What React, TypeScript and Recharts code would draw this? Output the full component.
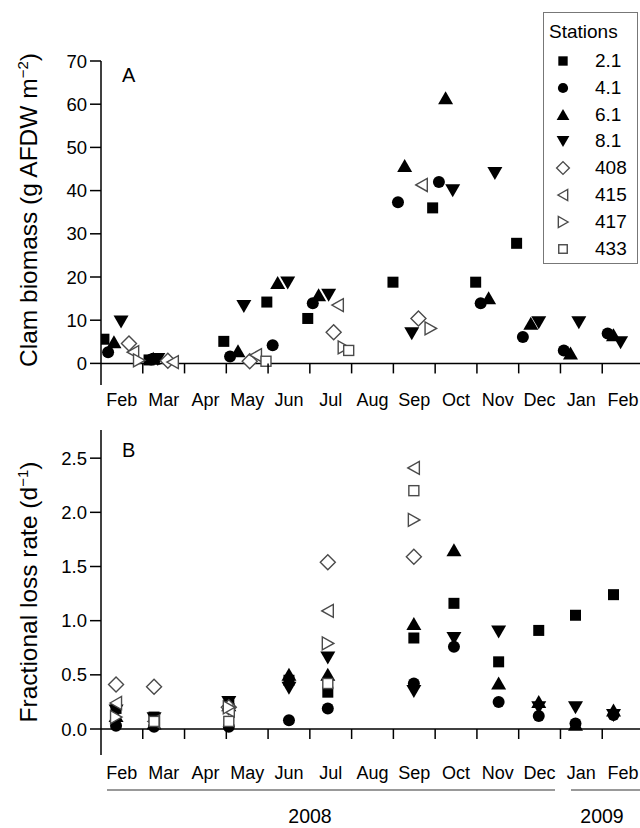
import React from "react";
import { ScatterChart, Scatter, XAxis, YAxis, ReferenceLine } from "recharts";

const FONT = "'Liberation Sans', Arial, Helvetica, sans-serif";

const stations = ["2.1", "4.1", "6.1", "8.1", "408", "415", "417", "433"];
const markerKinds = ["square", "circle", "up", "down", "diamond", "left", "right", "openSquare"];

// month index: 0 = start of Feb 2008, 13 = end of Feb 2009
const monthLabels = ["Feb", "Mar", "Apr", "May", "Jun", "Jul", "Aug", "Sep", "Oct", "Nov", "Dec", "Jan", "Feb"];
const monthTicks = [0.5, 1, 1.5, 2, 2.5, 3, 3.5, 4, 4.5, 5, 5.5, 6, 6.5, 7, 7.5, 8, 8.5, 9, 9.5, 10, 10.5, 11, 11.5, 12, 12.5];

// Panel A: clam biomass (g AFDW m-2)
const biomassTicks = [0, 10, 20, 30, 40, 50, 60, 70];
const aMonth21 = [0.07, 1.15, 2.94, 3.97, 4.95, 6.99, 7.94, 8.97, 9.95];
const aBio21 = [5.6, 0.8, 5.1, 14.2, 10.4, 18.8, 36.0, 18.8, 27.8];
const aMonth41 = [0.17, 1.2, 3.09, 4.11, 5.07, 7.11, 8.09, 9.09, 10.1, 11.08, 12.13];
const aBio41 = [2.6, 0.9, 1.6, 4.2, 13.9, 37.3, 42.0, 13.9, 6.1, 3.0, 6.9];
const aMonth61 = [0.31, 1.25, 3.28, 4.23, 5.21, 7.27, 8.25, 9.28, 10.29, 11.24, 12.27];
const aBio61 = [4.9, 1.1, 2.8, 18.6, 15.8, 45.7, 61.4, 15.1, 9.2, 2.3, 6.5];
const aMonth81 = [0.48, 1.36, 3.42, 4.47, 5.45, 7.44, 8.42, 9.43, 10.48, 11.44, 12.44];
const aBio81 = [9.7, 1.0, 13.3, 18.7, 15.9, 7.0, 40.1, 44.1, 9.5, 9.5, 4.9];
const aMonth408 = [0.67, 1.6, 3.56, 5.57, 7.6];
const aBio408 = [4.6, 0.6, 0.5, 7.2, 10.4];
const aMonth415 = [0.77, 1.72, 3.71, 5.67, 7.68];
const aBio415 = [2.6, 0.3, 1.9, 13.5, 41.3];
const aMonth417 = [0.91, 5.81, 7.89];
const aBio417 = [0.7, 3.7, 8.1];
const aMonth433 = [3.95, 5.93];
const aBio433 = [0.5, 3.0];

// Panel B: fractional loss rate (d-1), one column per sampling
const lossTicks = [0, 0.5, 1, 1.5, 2, 2.5];
const bMonths = [0.36, 1.27, 3.06, 4.5, 5.43, 7.49, 8.45, 9.52, 10.48, 11.36, 12.27];
const bLoss21 = [0.19, 0.11, 0.22, 0.45, 0.34, 0.84, 1.16, 0.62, 0.91, 1.05, 1.24];
const bLoss41 = [0.03, 0.02, 0.02, 0.08, 0.19, 0.42, 0.76, 0.25, 0.12, 0.05, 0.13];
const bLoss61 = [0.12, 0.05, 0.22, 0.5, 0.5, 0.97, 1.65, 0.42, 0.25, 0.04, 0.17];
const bLoss81 = [0.17, 0.1, 0.25, 0.38, 0.66, 0.35, 0.84, 0.9, 0.2, 0.2, 0.13];
const bLoss408 = [0.41, 0.39, 0.2, null, 1.54, 1.59, null, null, null, null, null];
const bLoss415 = [0.24, 0.07, 0.17, null, 1.09, 2.41, null, null, null, null, null];
const bLoss417 = [0.11, null, 0.2, null, 0.79, 1.93, null, null, null, null, null];
const bLoss433 = [null, 0.07, 0.07, null, 0.42, 2.2, null, null, null, null, null];

const years = ["2008", "2009"];

const zip = (xs: number[], ys: (number | null)[]) =>
  xs.map((m, i) => ({ m, v: ys[i] })).filter((d) => d.v !== null);

const seriesA = [
  zip(aMonth21, aBio21), zip(aMonth41, aBio41), zip(aMonth61, aBio61), zip(aMonth81, aBio81),
  zip(aMonth408, aBio408), zip(aMonth415, aBio415), zip(aMonth417, aBio417), zip(aMonth433, aBio433),
];
const seriesB = [bLoss21, bLoss41, bLoss61, bLoss81, bLoss408, bLoss415, bLoss417, bLoss433].map((ys) =>
  zip(bMonths, ys)
);

const OPEN = "#4a4a4a";

function Marker({ kind, cx, cy, k = 1 }: { kind: string; cx: number; cy: number; k?: number }) {
  if (cx == null || cy == null) return null;
  const pts = (arr: number[][]) => arr.map(([dx, dy]) => `${cx + dx * k},${cy + dy * k}`).join(" ");
  switch (kind) {
    case "square":
      return <rect x={cx - 5.5 * k} y={cy - 5.5 * k} width={11 * k} height={11 * k} fill="#000" />;
    case "circle":
      return <circle cx={cx} cy={cy} r={6 * k} fill="#000" />;
    case "up":
      return <polygon points={pts([[0, -7], [7.5, 6], [-7.5, 6]])} fill="#000" />;
    case "down":
      return <polygon points={pts([[0, 7], [7.5, -6], [-7.5, -6]])} fill="#000" />;
    case "diamond":
      return <polygon points={pts([[0, -7.5], [7.5, 0], [0, 7.5], [-7.5, 0]])} fill="#fff" stroke={OPEN} strokeWidth={1.4} />;
    case "left":
      return <polygon points={pts([[-6, 0], [5.5, -6.5], [5.5, 6.5]])} fill="#fff" stroke={OPEN} strokeWidth={1.4} />;
    case "right":
      return <polygon points={pts([[6, 0], [-5.5, -6.5], [-5.5, 6.5]])} fill="#fff" stroke={OPEN} strokeWidth={1.4} />;
    default:
      return <rect x={cx - 5 * k} y={cy - 5 * k} width={10 * k} height={10 * k} fill="#fff" stroke={OPEN} strokeWidth={1.4} />;
  }
}

function MonthTick(props: any) {
  const { x, y, payload, zeroOffset, labelDy } = props;
  const v = payload.value;
  if (Number.isInteger(v)) {
    return <line x1={x} x2={x} y1={y - zeroOffset} y2={y - zeroOffset + 10} stroke="#000" strokeWidth={1.5} />;
  }
  return (
    <text x={x} y={y + labelDy} textAnchor="middle" fontSize={18} fontFamily={FONT} fill="#000">
      {monthLabels[Math.floor(v)]}
    </text>
  );
}

const X_DOMAIN: [number, number] = [0, 13];
const A_DOMAIN: [number, number] = [-5, 70];
const B_DOMAIN: [number, number] = [-0.24, 2.76];
const A_PLOT_H = 324;
const B_PLOT_H = 325;

function Panel({
  series, domain, ticks, plotH, height, top, labelDy, title, sup, titleY, fmt,
}: any) {
  const zeroOffset = (plotH * (0 - domain[0])) / (domain[1] - domain[0]);
  return (
    <ScatterChart width={650} height={height} margin={{ top, right: 6, left: 0, bottom: 0 }}>
      <XAxis
        type="number"
        dataKey="m"
        domain={X_DOMAIN}
        ticks={monthTicks}
        interval={0}
        axisLine={false}
        tickLine={false}
        tickSize={0}
        tickMargin={0}
        height={35}
        allowDataOverflow
        tick={(p: any) => <MonthTick {...p} zeroOffset={zeroOffset} labelDy={labelDy} />}
      />
      <YAxis
        type="number"
        dataKey="v"
        domain={domain}
        ticks={ticks}
        width={101}
        allowDataOverflow
        axisLine={{ stroke: "#000", strokeWidth: 1.5 }}
        tickLine={{ stroke: "#000", strokeWidth: 1.5 }}
        tickSize={11}
        tickMargin={3}
        tickFormatter={fmt}
        tick={{ fill: "#000", fontSize: 18.5, fontFamily: FONT }}
        label={{
          content: () => (
            <text transform={`translate(37, ${titleY}) rotate(-90)`} textAnchor="middle" fontSize={24.5} fontFamily={FONT} fill="#000">
              {title}
              <tspan dy={-9} fontSize={15}>{sup}</tspan>
              <tspan dy={9}>)</tspan>
            </text>
          ),
        }}
      />
      <ReferenceLine y={0} stroke="#000" strokeWidth={1.5} ifOverflow="extendDomain" />
      {series.map((data: any[], i: number) => (
        <Scatter
          key={stations[i]}
          name={stations[i]}
          data={data}
          isAnimationActive={false}
          shape={(p: any) => <Marker kind={markerKinds[i]} cx={p.cx} cy={p.cy} />}
        />
      ))}
    </ScatterChart>
  );
}

export default function App() {
  return (
    <div
      style={{
        position: "absolute", left: 0, top: 0, width: 640, height: 828,
        overflow: "hidden", background: "#fff", fontFamily: FONT,
      }}
    >
      <div style={{ position: "absolute", left: 0, top: 0 }}>
        <Panel
          series={seriesA} domain={A_DOMAIN} ticks={biomassTicks} plotH={A_PLOT_H}
          height={420} top={61} labelDy={21} title="Clam biomass (g AFDW m" sup="−2" titleY={210}
          fmt={(v: number) => String(v)}
        />
      </div>
      <div style={{ position: "absolute", left: 0, top: 400 }}>
        <Panel
          series={seriesB} domain={B_DOMAIN} ticks={lossTicks} plotH={B_PLOT_H}
          height={390} top={30} labelDy={24} title="Fractional loss rate  (d" sup="−1" titleY={192}
          fmt={(v: number) => v.toFixed(1)}
        />
      </div>

      {/* legend */}
      <div
        style={{
          position: "absolute", left: 543, top: 12, width: 95, height: 252,
          border: "1px solid #777", background: "#fff", boxSizing: "border-box",
        }}
      >
        <div style={{ position: "absolute", left: 5, top: 8, fontSize: 19, lineHeight: "22px" }}>Stations</div>
        {stations.map((s, i) => (
          <div key={s} style={{ position: "absolute", left: 0, top: 36 + i * 26.8, height: 26, width: 95 }}>
            <svg width={40} height={26} style={{ position: "absolute", left: 0, top: 0 }}>
              <Marker kind={markerKinds[i]} cx={19} cy={12} k={0.85} />
            </svg>
            <span style={{ position: "absolute", left: 51, top: 1, fontSize: 19, lineHeight: "22px" }}>{s}</span>
          </div>
        ))}
      </div>

      {/* panel letters and year brackets */}
      <svg width={640} height={828} style={{ position: "absolute", left: 0, top: 0, pointerEvents: "none" }}>
        <text x={122} y={82} fontSize={20} fontFamily={FONT} fill="#000">A</text>
        <text x={122} y={457} fontSize={20} fontFamily={FONT} fill="#000">B</text>
        <line x1={107} x2={555} y1={790} y2={790} stroke="#777" strokeWidth={1.5} />
        <line x1={571} x2={640} y1={790} y2={790} stroke="#777" strokeWidth={1.5} />
        <text x={310} y={823} textAnchor="middle" fontSize={19.5} fontFamily={FONT} fill="#000">{years[0]}</text>
        <text x={602} y={823} textAnchor="middle" fontSize={19.5} fontFamily={FONT} fill="#000">{years[1]}</text>
      </svg>
    </div>
  );
}
